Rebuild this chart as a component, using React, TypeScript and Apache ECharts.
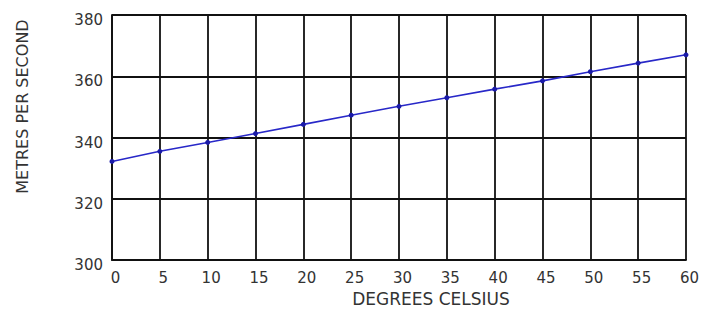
import React, { useEffect, useRef } from "react";
import * as echarts from "echarts";

const temperatures = [0, 5, 10, 15, 20, 25, 30, 35, 40, 45, 50, 55, 60];
const speeds = [332.2, 335.5, 338.4, 341.3, 344.3, 347.3, 350.2, 353.0, 355.8, 358.5, 361.5, 364.3, 367.0];
const xAxisTitle = "DEGREES CELSIUS";
const yAxisTitle = "METRES PER SECOND";

export default function App() {
  const ref = useRef<HTMLDivElement>(null);
  useEffect(() => {
    if (!ref.current) return;
    const chart = echarts.init(ref.current, null, { renderer: "svg" });
    const font = "DejaVu Sans";
    chart.setOption({
      animation: false,
      backgroundColor: "#ffffff",
      grid: { left: 112, right: 27, top: 15, bottom: 45, containLabel: false },
      xAxis: {
        type: "value",
        min: 0,
        max: 60,
        interval: 5,
        name: xAxisTitle,
        nameLocation: "middle",
        nameGap: 29,
        nameTextStyle: { fontFamily: font, fontSize: 17, color: "#333", padding: [0, 0, 0, 64] },
        axisLine: { show: true, lineStyle: { color: "#111", width: 1.8 } },
        axisTick: { show: false },
        axisLabel: { fontFamily: font, fontSize: 15, color: "#333", margin: 10, padding: [0, 0, 0, 7] },
        splitLine: { show: true, lineStyle: { color: "#111", width: 1.8 } },
      },
      yAxis: {
        type: "value",
        min: 300,
        max: 380,
        interval: 20,
        name: yAxisTitle,
        nameLocation: "middle",
        nameGap: 82,
        nameTextStyle: { fontFamily: font, fontSize: 16, color: "#333", padding: [0, 0, 0, 62] },
        axisLine: { show: true, lineStyle: { color: "#111", width: 1.8 } },
        axisTick: { show: false },
        axisLabel: { fontFamily: font, fontSize: 15, color: "#333", margin: 9, verticalAlign: "top", lineHeight: 10 },
        splitLine: { show: true, lineStyle: { color: "#111", width: 1.8 } },
      },
      series: [
        {
          type: "line",
          data: temperatures.map((t, i) => [t, speeds[i]]),
          symbol: "circle",
          symbolSize: 5,
          itemStyle: { color: "#1a1aa8" },
          lineStyle: { color: "#2828c8", width: 1.6 },
        },
      ],
    });
    return () => chart.dispose();
  }, []);
  return <div ref={ref} style={{ width: 713, height: 312, position: "absolute", left: 0, top: 0 }} />;
}
